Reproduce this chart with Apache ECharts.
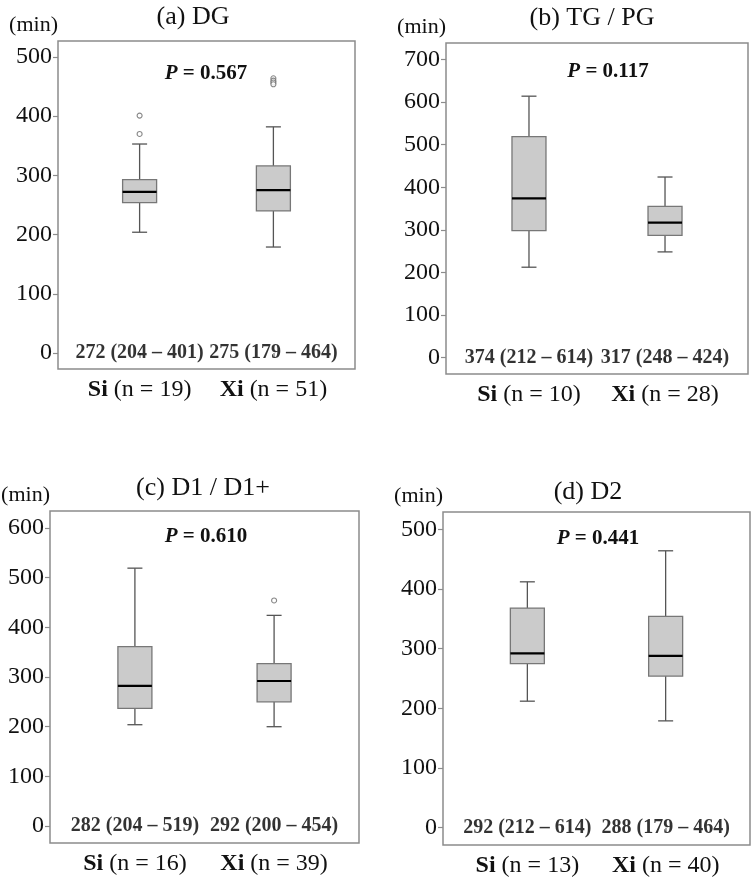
<!DOCTYPE html>
<html>
<head>
<meta charset="utf-8">
<script src="https://cdn.jsdelivr.net/npm/echarts@6/dist/echarts.min.js"></script>
<style>html,body{margin:0;padding:0;background:#fff}#c{width:753px;height:879px}</style>
</head>
<body>
<div id="c"></div>
<script>
// ---- data ----
const groups = ['Si', 'Xi'];
const panelTitles = ['(a) DG', '(b) TG / PG', '(c) D1 / D1+', '(d) D2'];
const pValues = ['0.567', '0.117', '0.610', '0.441'];
const nCounts = [[19, 51], [10, 28], [16, 39], [13, 40]];
// [min whisker, Q1, median, Q3, max whisker]
const boxA = [[204, 254, 272, 293, 353], [179, 240, 275, 316, 382]];
const boxB = [[212, 298, 374, 519, 614], [248, 287, 317, 355, 424]];
const boxC = [[204, 237, 282, 361, 519], [200, 250, 292, 327, 424]];
const boxD = [[212, 275, 292, 368, 412], [179, 254, 288, 354, 464]];
const outA = [[401, 370], [464, 460, 457, 454]];
const outB = [[], []];
const outC = [[], [454]];
const outD = [[], []];
const sumA = ['272 (204 – 401)', '275 (179 – 464)'];
const sumB = ['374 (212 – 614)', '317 (248 – 424)'];
const sumC = ['282 (204 – 519)', '292 (200 – 454)'];
const sumD = ['292 (212 – 614)', '288 (179 – 464)'];
const ticksA = [0, 100, 200, 300, 400, 500];
const ticksB = [0, 100, 200, 300, 400, 500, 600, 700];
const ticksC = [0, 100, 200, 300, 400, 500, 600];
const ticksD = [0, 100, 200, 300, 400, 500];
const yRanges = [[-27, 527], [-39, 739], [-34, 634], [-29, 529]];

const boxes = [boxA, boxB, boxC, boxD];
const outs = [outA, outB, outC, outD];
const sums = [sumA, sumB, sumC, sumD];
const ticks = [ticksA, ticksB, ticksC, ticksD];

// ---- layout ----
const grids = [
  {left: 58, top: 41, width: 297, height: 328},
  {left: 446, top: 43, width: 302, height: 331},
  {left: 50, top: 511, width: 309, height: 332},
  {left: 443, top: 512, width: 307, height: 333}
];
const titlePos = [[193, 17], [592, 18], [203, 488], [588, 492]];
const pPos = [[206, 74], [608, 72], [206, 537], [598, 539]];

const FONT = 'Liberation Serif';
const frameColor = '#8c8c8c';

const option = {
  backgroundColor: '#ffffff',
  animation: false,
  textStyle: {fontFamily: FONT},
  title: [],
  grid: [],
  xAxis: [],
  yAxis: [],
  series: []
};

for (let p = 0; p < 4; p++) {
  const g = grids[p];
  option.grid.push(Object.assign({show: true, borderColor: frameColor, borderWidth: 1.5, backgroundColor: 'transparent'}, g));
  option.title.push({
    text: panelTitles[p], left: titlePos[p][0], top: titlePos[p][1], padding: 0,
    textAlign: 'center', textVerticalAlign: 'middle',
    textStyle: {fontFamily: FONT, fontSize: 26, fontWeight: 'normal', color: '#111'}
  });
  option.title.push({
    text: '{i|P} = ' + pValues[p], left: pPos[p][0], top: pPos[p][1], padding: 0,
    textAlign: 'center', textVerticalAlign: 'middle',
    textStyle: {fontFamily: FONT, fontSize: 21, fontWeight: 'bold', color: '#111',
      rich: {i: {fontFamily: FONT, fontSize: 21, fontWeight: 'bold', fontStyle: 'italic', color: '#111'}}}
  });
  const nc = nCounts[p];
  option.xAxis.push({
    type: 'value', gridIndex: p, min: 0.39, max: 2.61,
    axisLine: {show: false},
    splitLine: {show: false},
    axisTick: {show: true, customValues: [1, 2], length: 5, lineStyle: {color: frameColor, width: 1.5}},
    axisLabel: {
      show: true, customValues: [1, 2], margin: 9,
      formatter: function (v) {
        const i = Math.round(v) - 1;
        return '{b|' + groups[i] + '}{n| (n = ' + nc[i] + ')}';
      },
      fontFamily: FONT, fontSize: 24, color: '#111',
      rich: {
        b: {fontFamily: FONT, fontSize: 24, fontWeight: 'bold', color: '#111'},
        n: {fontFamily: FONT, fontSize: 24, color: '#111'}
      }
    }
  });
  option.yAxis.push({
    type: 'value', gridIndex: p, min: yRanges[p][0], max: yRanges[p][1],
    name: '(min)', nameLocation: 'end', nameGap: 5,
    nameTextStyle: {fontFamily: FONT, fontSize: 22, color: '#111', align: 'right'},
    axisLine: {show: false},
    splitLine: {show: false},
    axisTick: {show: true, customValues: ticks[p], length: 5, lineStyle: {color: frameColor, width: 1.2}},
    axisLabel: {show: true, customValues: ticks[p], margin: 6, fontFamily: FONT, fontSize: 24, color: '#111'}
  });
  // boxes
  const bdata = boxes[p].map((b, i) => [i + 1].concat(b));
  option.series.push({
    type: 'custom', xAxisIndex: p, yAxisIndex: p, data: bdata, z: 3,
    renderItem: function (params, api) {
      const x = api.value(0);
      const vMin = api.value(1), q1 = api.value(2), med = api.value(3), q3 = api.value(4), vMax = api.value(5);
      const pMin = api.coord([x, vMin]), pQ1 = api.coord([x, q1]), pMed = api.coord([x, med]);
      const pQ3 = api.coord([x, q3]), pMax = api.coord([x, vMax]);
      const hw = 17, cw = 7.5;
      const cx = pMed[0];
      const wStyle = {stroke: '#555', lineWidth: 1.3};
      return {
        type: 'group',
        children: [
          {type: 'line', shape: {x1: cx, y1: pQ3[1], x2: cx, y2: pMax[1]}, style: wStyle},
          {type: 'line', shape: {x1: cx, y1: pQ1[1], x2: cx, y2: pMin[1]}, style: wStyle},
          {type: 'line', shape: {x1: cx - cw, y1: pMax[1], x2: cx + cw, y2: pMax[1]}, style: wStyle},
          {type: 'line', shape: {x1: cx - cw, y1: pMin[1], x2: cx + cw, y2: pMin[1]}, style: wStyle},
          {type: 'rect', shape: {x: cx - hw, y: pQ3[1], width: 2 * hw, height: pQ1[1] - pQ3[1]},
            style: {fill: '#cbcbcb', stroke: '#777', lineWidth: 1.3}},
          {type: 'line', shape: {x1: cx - hw, y1: pMed[1], x2: cx + hw, y2: pMed[1]}, style: {stroke: '#000', lineWidth: 2.2}}
        ]
      };
    }
  });
  // outliers
  const odata = [];
  outs[p].forEach((arr, i) => arr.forEach(v => odata.push([i + 1, v])));
  option.series.push({
    type: 'scatter', xAxisIndex: p, yAxisIndex: p, data: odata, z: 4,
    symbol: 'circle', symbolSize: 5,
    itemStyle: {color: '#ffffff', borderColor: '#6a6a6a', borderWidth: 1.1}
  });
  // summary labels at y = 0
  option.series.push({
    type: 'scatter', xAxisIndex: p, yAxisIndex: p, z: 5,
    data: sums[p].map((s, i) => ({value: [i + 1, 0], label: {formatter: s}})),
    symbolSize: 0, itemStyle: {color: 'rgba(0,0,0,0)'},
    label: {show: true, position: 'inside', fontFamily: FONT, fontSize: 20, fontWeight: 'bold',
      color: '#000', textBorderWidth: 0, textBorderColor: 'transparent'}
  });
}

const chart = echarts.init(document.getElementById('c'), null, {renderer: 'canvas'});
chart.setOption(option);
</script>
</body>
</html>
